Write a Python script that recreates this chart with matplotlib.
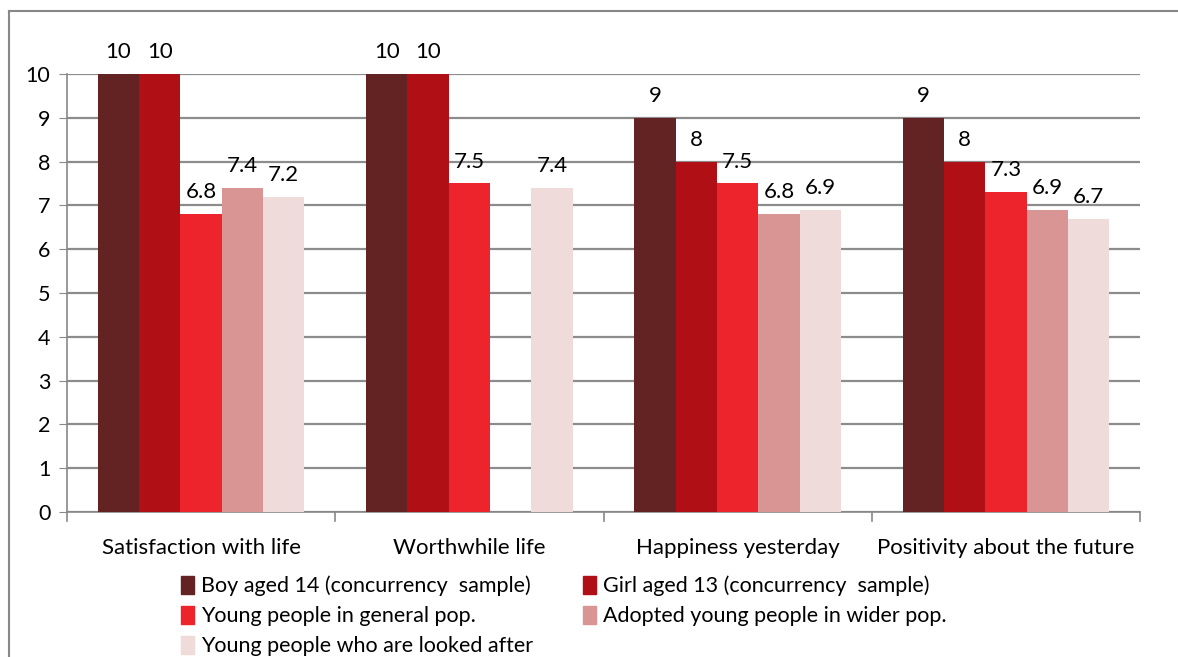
import numpy as np
import matplotlib.pyplot as plt
import matplotlib.patches as mpatches
from matplotlib.lines import Line2D

plt.rcParams['font.family'] = ['Lato', 'DejaVu Sans']

# ==== Data ====
categories = ["Satisfaction with life", "Worthwhile life", "Happiness yesterday",
              "Positivity about the future"]
series_names = ["Boy aged 14 (concurrency  sample)", "Girl aged 13 (concurrency  sample)",
                "Young people in general pop.", "Adopted young people in wider pop.",
                "Young people who are looked after"]
boy = [10, 10, 9, 9]
girl = [10, 10, 8, 8]
general = [6.8, 7.5, 7.5, 7.3]
adopted = [7.4, np.nan, 6.8, 6.9]
looked_after = [7.2, 7.4, 6.9, 6.7]
colors = ["#632323", "#B01015", "#EE242C", "#D99594", "#F0DBDB"]

series = [boy, girl, general, adopted, looked_after]

fig = plt.figure(figsize=(11.78, 6.57), dpi=100)
ax = fig.add_axes([67 / 1178, 1 - 512 / 657, (1140 - 67) / 1178, (512 - 74) / 657])

x = np.arange(len(categories))
width = 0.154
for i, (vals, name, col) in enumerate(zip(series, series_names, colors)):
    pos = x + (i - 2) * width
    ax.bar(pos, vals, width, color=col, label=name, zorder=3)
    for p, v in zip(pos, vals):
        if np.isnan(v):
            continue
        txt = f"{v:g}" if v != int(v) else f"{int(v)}"
        ax.text(p, v + 0.27, txt, ha='center', va='bottom', fontsize=16, color='black')

ax.set_ylim(0, 10)
ax.set_xlim(-0.5, len(categories) - 0.5)
ax.set_yticks(range(0, 11))
ax.tick_params(axis='y', labelsize=15.5, length=6, color='#888888', direction='out', pad=6)
ax.yaxis.grid(True, color='#8c8c8c', linewidth=1.6, zorder=0)
ax.set_axisbelow(True)

ax.set_xticks(x)
ax.set_xticklabels(categories, fontsize=16)
ax.tick_params(axis='x', length=0, pad=19)
for b in np.arange(-0.5, len(categories), 1):
    ax.plot([b, b], [0, -0.2], color='#888888', lw=1.2, clip_on=False)

for s in ['top', 'right']:
    ax.spines[s].set_visible(False)
ax.spines['left'].set_color('#888888')
ax.spines['bottom'].set_color('#888888')
ax.spines['left'].set_linewidth(1.2)
ax.spines['bottom'].set_linewidth(1.2)

# Legend (row-major order, filled column by column)
handles = [mpatches.Patch(color=c, label=n) for c, n in zip(colors, series_names)]
order = [0, 2, 4, 1, 3]
fig.legend(handles=[handles[k] for k in order], ncol=2, loc='upper left',
           bbox_to_anchor=(172 / 1178, 1 - 567 / 657),
           frameon=False, fontsize=15.5, handlelength=0.6, handleheight=0.9, handletextpad=0.35,
           columnspacing=2.3, labelspacing=0.45, borderaxespad=0)

# Outer border
fig.add_artist(Line2D([9 / 1178, 9 / 1178], [0, 1 - 11 / 657], transform=fig.transFigure,
                      color='#888888', lw=1.5))
fig.add_artist(Line2D([9 / 1178, 1], [1 - 11 / 657, 1 - 11 / 657], transform=fig.transFigure,
                      color='#888888', lw=1.5))

fig.savefig("out.png", dpi=100)
